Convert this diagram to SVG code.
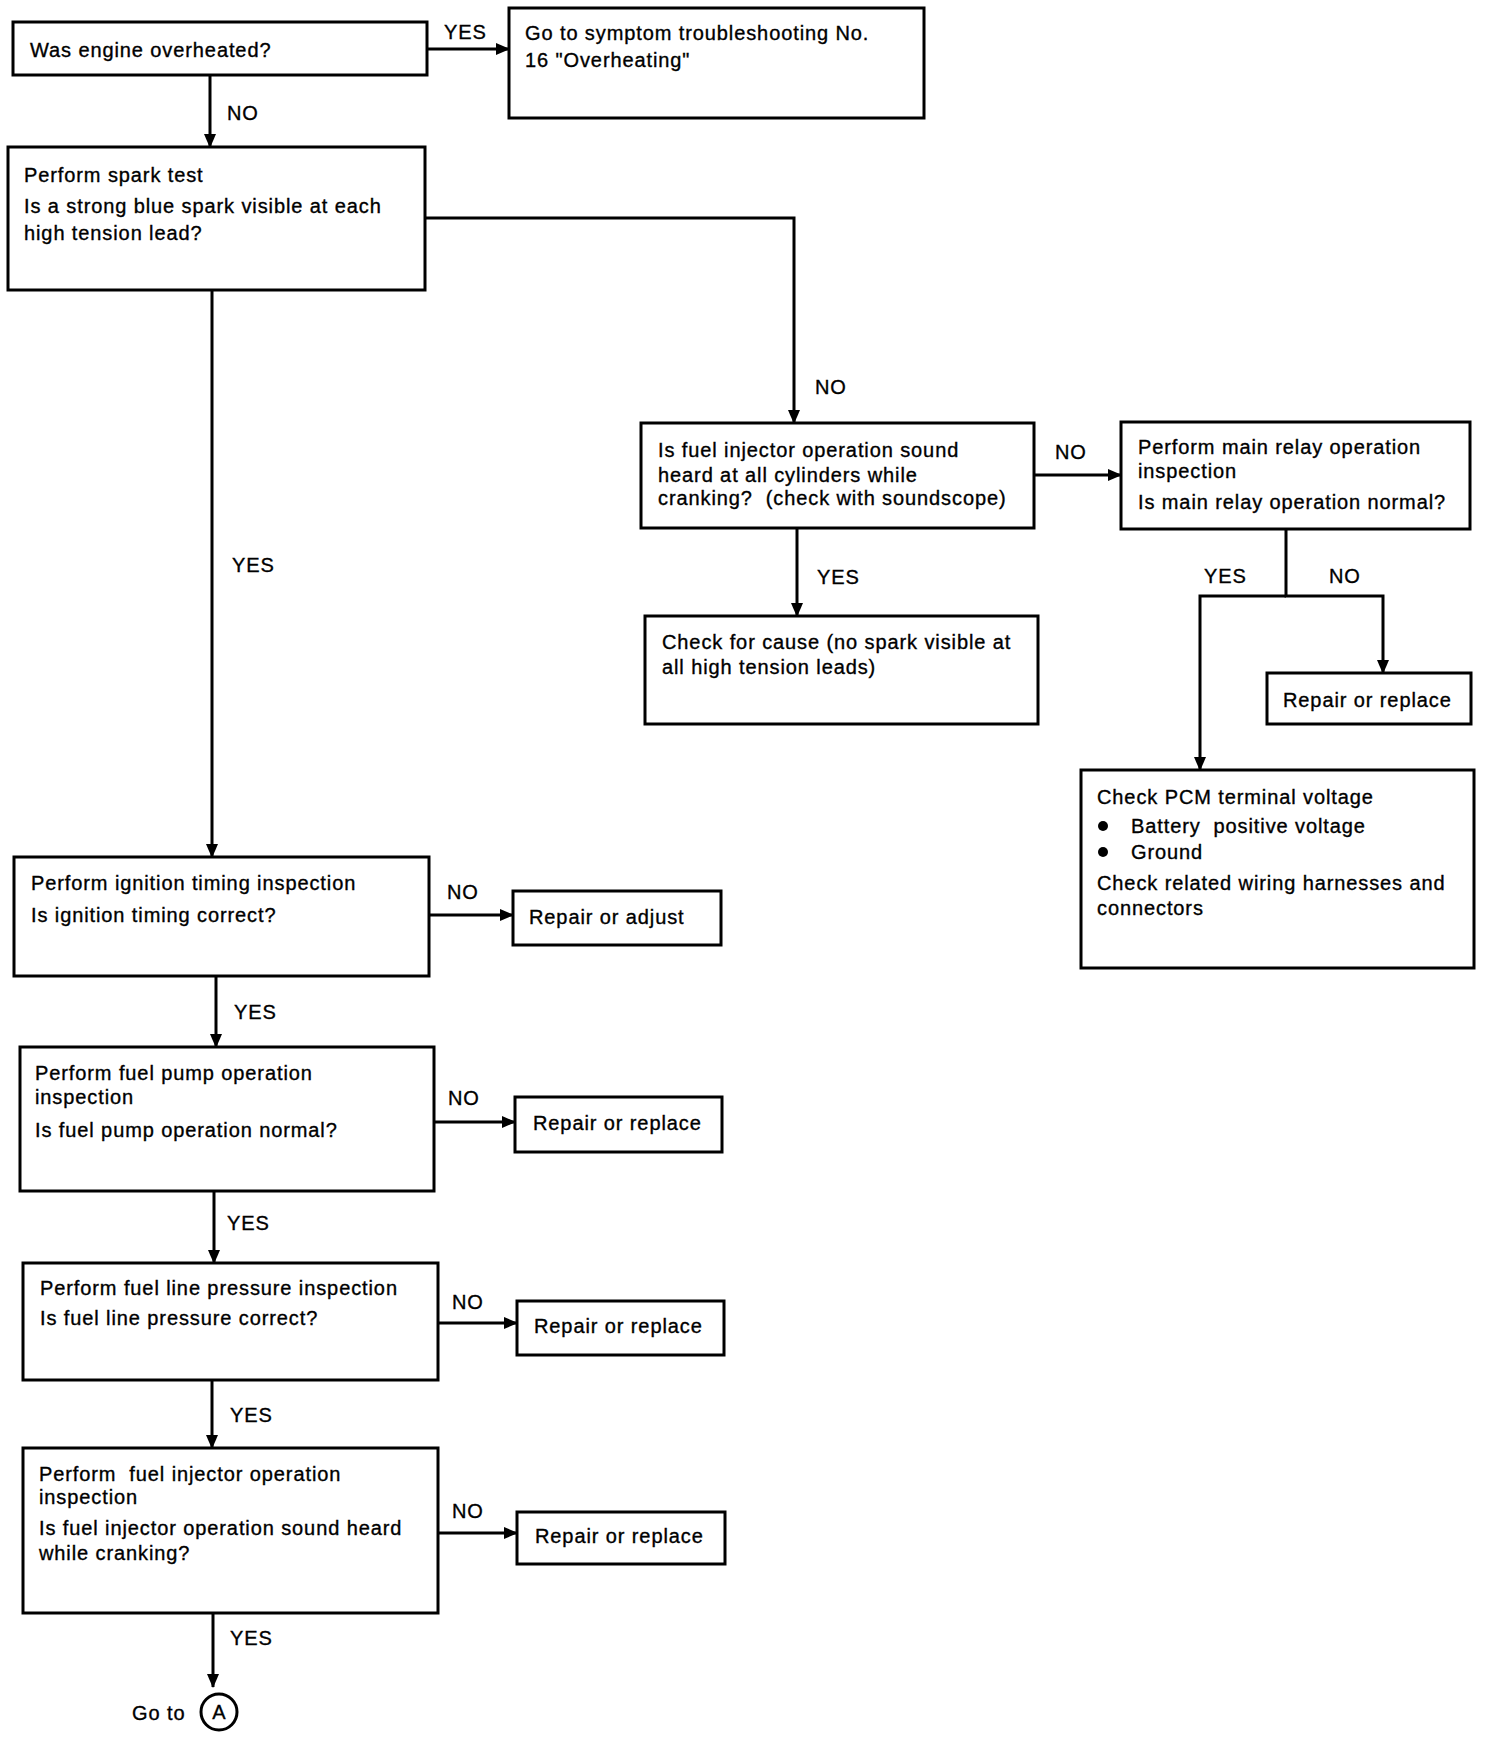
<svg xmlns="http://www.w3.org/2000/svg" width="1488" height="1738" viewBox="0 0 1488 1738">
<style>
rect.b{fill:#fff;stroke:#000;stroke-width:3}
text{font-family:"Liberation Sans",Arial,sans-serif;font-size:20px;letter-spacing:0.9px;fill:#000;stroke:#000;stroke-width:0.35}
.c{fill:none;stroke:#000;stroke-width:3}
.a{marker-end:url(#ah)}
</style>
<defs>
<marker id="ah" viewBox="0 0 14 12" refX="13" refY="6" markerWidth="14" markerHeight="12" markerUnits="userSpaceOnUse" orient="auto">
<path d="M0,0 L14,6 L0,12 z" fill="#000"/>
</marker>
</defs>
<rect width="1488" height="1738" fill="#fff"/>
<g id="connectors">
<path class="c a" d="M427,49 H509"/>
<path class="c a" d="M210,75 V147"/>
<path class="c a" d="M425,218 H794 V423"/>
<path class="c a" d="M212,290 V857"/>
<path class="c a" d="M1034,475 H1121"/>
<path class="c a" d="M797,528 V616"/>
<path class="c a" d="M1286,529 V596 H1383 V673"/>
<path class="c a" d="M1286,596 H1200 V770"/>
<path class="c a" d="M429,915 H513"/>
<path class="c a" d="M216,976 V1047"/>
<path class="c a" d="M434,1122 H515"/>
<path class="c a" d="M214,1191 V1263"/>
<path class="c a" d="M438,1323 H517"/>
<path class="c a" d="M212,1380 V1448"/>
<path class="c a" d="M438,1533 H517"/>
<path class="c a" d="M213,1613 V1687"/>
<text x="444" y="39">YES</text>
<text x="227" y="120">NO</text>
<text x="815" y="394">NO</text>
<text x="232" y="572">YES</text>
<text x="1055" y="459">NO</text>
<text x="817" y="584">YES</text>
<text x="1204" y="583">YES</text>
<text x="1329" y="583">NO</text>
<text x="447" y="899">NO</text>
<text x="234" y="1019">YES</text>
<text x="448" y="1105">NO</text>
<text x="227" y="1230">YES</text>
<text x="452" y="1309">NO</text>
<text x="230" y="1422">YES</text>
<text x="452" y="1518">NO</text>
<text x="230" y="1645">YES</text>
</g>
<g id="n1"><rect class="b" x="13" y="22" width="414" height="53"/><text x="30" y="57">Was engine overheated?</text></g>
<g id="n2"><rect class="b" x="509" y="8" width="415" height="110"/><text x="525" y="40">Go to symptom troubleshooting No.</text><text x="525" y="67">16 "Overheating"</text></g>
<g id="n3"><rect class="b" x="8" y="147" width="417" height="143"/><text x="24" y="182">Perform spark test</text><text x="24" y="213">Is a strong blue spark visible at each</text><text x="24" y="240">high tension lead?</text></g>
<g id="n4"><rect class="b" x="641" y="423" width="393" height="105"/><text x="658" y="457">Is fuel injector operation sound</text><text x="658" y="482">heard at all cylinders while</text><text x="658" y="505">cranking?&#160; (check with soundscope)</text></g>
<g id="n5"><rect class="b" x="1121" y="422" width="349" height="107"/><text x="1138" y="454">Perform main relay operation</text><text x="1138" y="478">inspection</text><text x="1138" y="509">Is main relay operation normal?</text></g>
<g id="n6"><rect class="b" x="645" y="616" width="393" height="108"/><text x="662" y="649">Check for cause (no spark visible at</text><text x="662" y="674">all high tension leads)</text></g>
<g id="n7"><rect class="b" x="1267" y="673" width="204" height="51"/><text x="1283" y="707">Repair or replace</text></g>
<g id="n8"><rect class="b" x="1081" y="770" width="393" height="198"/><text x="1097" y="804">Check PCM terminal voltage</text><circle cx="1103" cy="826" r="5" fill="#000"/><text x="1131" y="833">Battery&#160; positive voltage</text><circle cx="1103" cy="852" r="5" fill="#000"/><text x="1131" y="859">Ground</text><text x="1097" y="890">Check related wiring harnesses and</text><text x="1097" y="915">connectors</text></g>
<g id="n9"><rect class="b" x="14" y="857" width="415" height="119"/><text x="31" y="890">Perform ignition timing inspection</text><text x="31" y="922">Is ignition timing correct?</text></g>
<g id="n10"><rect class="b" x="513" y="891" width="208" height="54"/><text x="529" y="924">Repair or adjust</text></g>
<g id="n11"><rect class="b" x="20" y="1047" width="414" height="144"/><text x="35" y="1080">Perform fuel pump operation</text><text x="35" y="1104">inspection</text><text x="35" y="1137">Is fuel pump operation normal?</text></g>
<g id="n12"><rect class="b" x="515" y="1097" width="207" height="55"/><text x="533" y="1130">Repair or replace</text></g>
<g id="n13"><rect class="b" x="23" y="1263" width="415" height="117"/><text x="40" y="1295">Perform fuel line pressure inspection</text><text x="40" y="1325">Is fuel line pressure correct?</text></g>
<g id="n14"><rect class="b" x="517" y="1301" width="207" height="54"/><text x="534" y="1333">Repair or replace</text></g>
<g id="n15"><rect class="b" x="23" y="1448" width="415" height="165"/><text x="39" y="1481">Perform&#160; fuel injector operation</text><text x="39" y="1504">inspection</text><text x="39" y="1535">Is fuel injector operation sound heard</text><text x="39" y="1560">while cranking?</text></g>
<g id="n16"><rect class="b" x="517" y="1512" width="208" height="52"/><text x="535" y="1543">Repair or replace</text></g>
<g id="n17"><text x="132" y="1720">Go to</text><circle cx="219" cy="1712" r="18" fill="#fff" stroke="#000" stroke-width="3"/><text x="219" y="1719" text-anchor="middle" style="letter-spacing:0">A</text></g>
</svg>
